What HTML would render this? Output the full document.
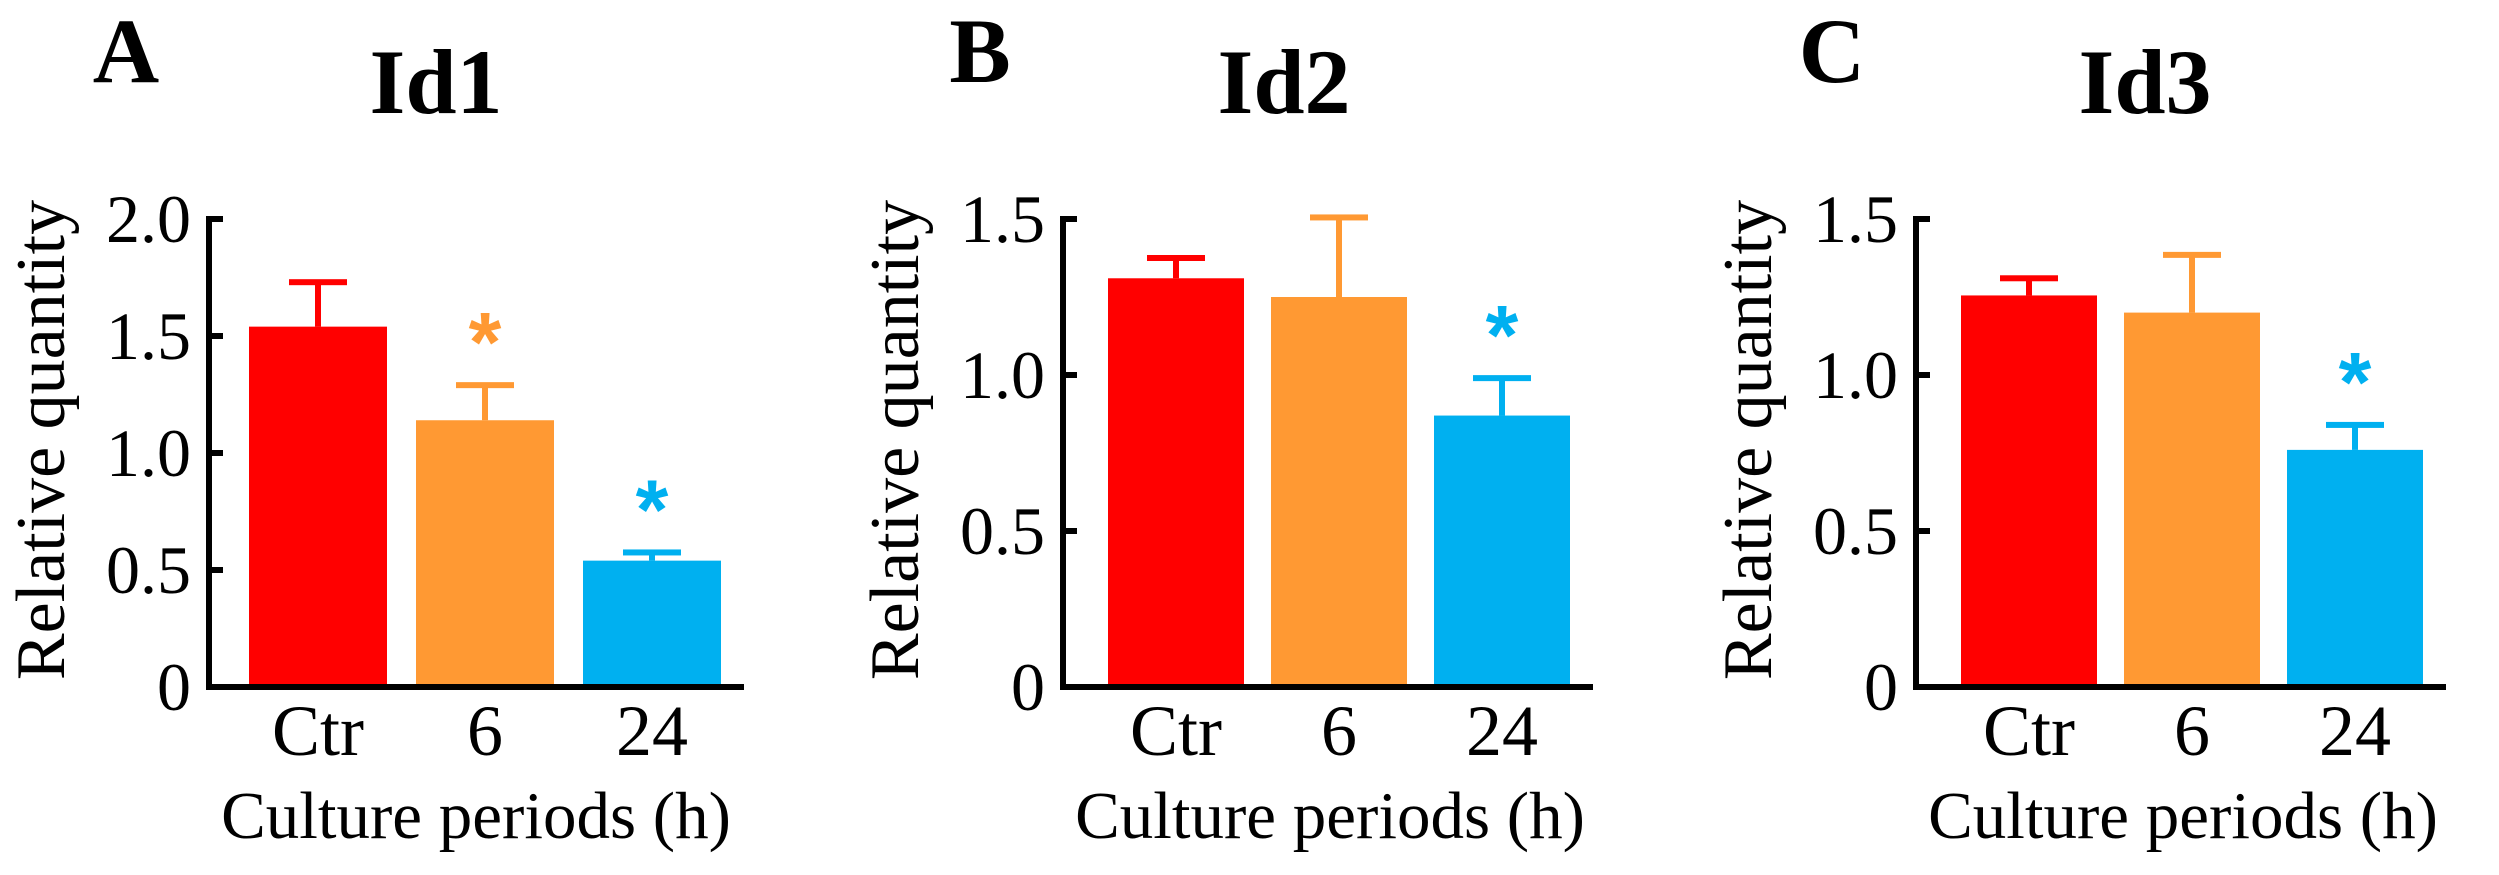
<!DOCTYPE html>
<html><head><meta charset="utf-8"><style>
html,body{margin:0;padding:0;background:#fff;}
svg{display:block;font-family:"Liberation Serif","Times New Roman",serif;}
</style></head><body>
<svg id="fig" width="2499" height="875" viewBox="0 0 2499 875" xmlns="http://www.w3.org/2000/svg"></svg>
<script>
const categories = ["Ctr", "6", "24"];
const colors = ["#ff0000", "#ff9933", "#00b0f0"];
const id1Values = [1.54, 1.14, 0.54];
const id1Errors = [0.19, 0.15, 0.035];
const id1Ticks = ["0", "0.5", "1.0", "1.5", "2.0"];
const id1TickVals = [0, 0.5, 1.0, 1.5, 2.0];
const id1Sig = [false, true, true];
const id2Values = [1.31, 1.25, 0.87];
const id2Errors = [0.065, 0.255, 0.12];
const id2Ticks = ["0", "0.5", "1.0", "1.5"];
const id2TickVals = [0, 0.5, 1.0, 1.5];
const id2Sig = [false, false, true];
const id3Values = [1.255, 1.2, 0.76];
const id3Errors = [0.055, 0.185, 0.08];
const id3Ticks = ["0", "0.5", "1.0", "1.5"];
const id3TickVals = [0, 0.5, 1.0, 1.5];
const id3Sig = [false, false, true];

const NS = "http://www.w3.org/2000/svg";
const svg = document.getElementById("fig");
function mk(tag, attrs, parent, text){
  const e = document.createElementNS(NS, tag);
  for (const k in attrs) e.setAttribute(k, attrs[k]);
  if (text !== undefined) e.textContent = text;
  (parent || svg).appendChild(e);
  return e;
}
const panels = [
  {key:"a", letter:"A", title:"Id1", axisX:209, letterX:126, titleX:436, ymax:2.0, values:id1Values, errors:id1Errors, ticks:id1Ticks, tickVals:id1TickVals, sig:id1Sig, barW:138, pitch:167, barOff:40},
  {key:"b", letter:"B", title:"Id2", axisX:1063, letterX:980, titleX:1284, ymax:1.5, values:id2Values, errors:id2Errors, ticks:id2Ticks, tickVals:id2TickVals, sig:id2Sig, barW:136, pitch:163, barOff:45},
  {key:"c", letter:"C", title:"Id3", axisX:1916, letterX:1832, titleX:2145, ymax:1.5, values:id3Values, errors:id3Errors, ticks:id3Ticks, tickVals:id3TickVals, sig:id3Sig, barW:136, pitch:163, barOff:45}
];
const zeroY = 687, topY = 219;
panels.forEach(p => {
  const g = mk("g", {});
  
  
  const yScale = v => zeroY - (v / p.ymax) * (zeroY - topY);
  const xLeft = i => p.axisX + p.barOff + i * p.pitch;

  const lt = mk("text", {x:p.letterX, y:82, "text-anchor":"middle", "font-size":92, "font-weight":"bold"}, g, p.letter);
  
  
  const tt = mk("text", {x:p.titleX, y:113, "text-anchor":"middle", "font-size":92, "font-weight":"bold"}, g, p.title);
  
  

  p.values.forEach((v, i) => {
    const x = xLeft(i), y = yScale(v);
    const r = mk("rect", {x:x, y:y, width:p.barW, height:zeroY - y, fill:colors[i]}, g);
    
    
    const cx = x + p.barW / 2, ey = yScale(v + p.errors[i]);
    const eb = mk("g", {}, g);
    
    
    mk("rect", {x:cx - 3, y:ey, width:6, height:y - ey, fill:colors[i]}, eb);
    mk("rect", {x:cx - 29, y:ey - 3, width:58, height:6, fill:colors[i]}, eb);
    if (p.sig[i]) {
      const s = mk("text", {x:cx, y:ey - 14, "text-anchor":"middle", "font-size":84, "font-weight":"bold", fill:colors[i], "font-family":"Liberation Sans, sans-serif"}, g, "*");
      
      
    }
    const cl = mk("text", {x:cx, y:755, "text-anchor":"middle", "font-size":72}, g, categories[i]);
    
    
  });

  const lastRight = xLeft(2) + p.barW + 23;
  const ax = mk("path", {d:`M${p.axisX} ${topY - 3} V${zeroY} H${lastRight}`, stroke:"#000", "stroke-width":6, fill:"none"}, g);
  
  
  p.tickVals.forEach((tv, k) => {
    const y = yScale(tv);
    if (tv > 0) {
      const tk = mk("line", {x1:p.axisX, x2:p.axisX + 14, y1:y, y2:y, stroke:"#000", "stroke-width":6}, g);
      
      
    }
    const tl = mk("text", {x:p.axisX - 18, y:y + 23, "text-anchor":"end", "font-size":68}, g, p.ticks[k]);
    
    
  });
  const yl = mk("text", {x:0, y:0, "text-anchor":"middle", "font-size":70, transform:`translate(${p.axisX - 145} 440) rotate(-90)`}, g, "Relative quantity");
  
  
  const midX = xLeft(1) + p.barW / 2 - 9;
  const xl = mk("text", {x:midX, y:838, "text-anchor":"middle", "font-size":67}, g, "Culture periods (h)");
  
  
});
</script>
</body></html>
